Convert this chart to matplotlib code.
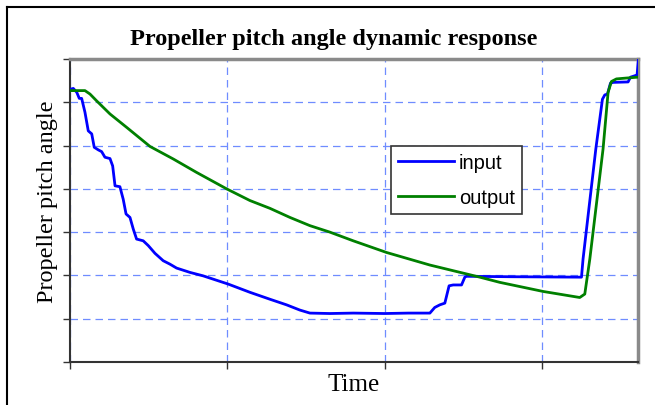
import matplotlib
matplotlib.use("Agg")
import matplotlib.pyplot as plt
from matplotlib.lines import Line2D

# Data (time units, pitch angle units)
input_t = [0.000, 0.021, 0.043, 0.059, 0.074, 0.095, 0.116, 0.138, 0.154, 0.180, 0.201, 0.222,
           0.254, 0.271, 0.286, 0.317, 0.338, 0.356, 0.381, 0.402, 0.423, 0.465, 0.497, 0.540,
           0.592, 0.635, 0.677, 0.762, 0.846, 1.005, 1.143, 1.270, 1.376, 1.460, 1.524, 1.651,
           1.800, 2.000, 2.150, 2.286, 2.317, 2.349, 2.381, 2.408, 2.434, 2.487, 2.508, 2.519,
           2.800, 3.249, 3.259, 3.340, 3.382, 3.397, 3.414, 3.433, 3.450, 3.545, 3.560, 3.602, 3.611]
input_y = [6.30, 6.32, 6.23, 6.09, 6.09, 5.77, 5.34, 5.27, 4.96, 4.90, 4.86, 4.73,
           4.70, 4.53, 4.07, 4.05, 3.76, 3.42, 3.34, 3.07, 2.84, 2.80, 2.69, 2.51,
           2.34, 2.26, 2.17, 2.07, 1.99, 1.80, 1.61, 1.45, 1.32, 1.20, 1.13, 1.12,
           1.13, 1.12, 1.13, 1.13, 1.26, 1.32, 1.36, 1.76, 1.78, 1.78, 1.96, 1.98,
           1.97, 1.96, 2.38, 4.92, 6.07, 6.17, 6.19, 6.44, 6.46, 6.47, 6.58, 6.63, 7.00]

output_t = [0.000, 0.095, 0.127, 0.170, 0.254, 0.360, 0.508, 0.656, 0.804, 0.995, 1.143,
            1.270, 1.397, 1.524, 1.651, 1.799, 2.011, 2.286, 2.603, 2.730, 3.005, 3.238,
            3.270, 3.302, 3.386, 3.418, 3.439, 3.471, 3.535, 3.606]
output_y = [6.27, 6.27, 6.19, 6.03, 5.73, 5.42, 4.98, 4.69, 4.38, 4.00, 3.73,
            3.55, 3.34, 3.15, 3.00, 2.80, 2.53, 2.24, 1.96, 1.84, 1.63, 1.49,
            1.57, 2.38, 4.92, 6.23, 6.48, 6.54, 6.56, 6.58]

x_ticks = [0, 1, 2, 3]
y_ticks = [0, 1, 2, 3, 4, 5, 6, 7]

W, H = 655, 406
fig = plt.figure(figsize=(W / 100, H / 100), dpi=100)
ax = fig.add_axes([70 / W, 1 - 363 / H, 568 / W, 303 / H])

ax.plot(input_t, input_y, color="#0000ff", lw=2.0, label="input", zorder=3)
ax.plot(output_t, output_y, color="#008000", lw=2.0, label="output", zorder=3)

ax.set_xlim(0, 3.608)
ax.set_ylim(0, 7)
ax.set_xticks(x_ticks)
ax.set_yticks(y_ticks)
ax.set_xticklabels([])
ax.set_yticklabels([])
ax.tick_params(direction="out", length=5, width=1, color="#333333")
ax.set_axisbelow(True)
ax.grid(True, color="#6f8cff", linestyle=(0, (6, 4)), linewidth=0.9)

for side in ("left", "bottom"):
    ax.spines[side].set_color("#333333")
    ax.spines[side].set_linewidth(1.5)
for side in ("top", "right"):
    ax.spines[side].set_color("#8a8a8a")
    ax.spines[side].set_linewidth(2.5)

leg = ax.legend(loc="upper left", bbox_to_anchor=((391 - 70) / 568, (363 - 146.7) / 303),
                borderaxespad=0, fancybox=False, framealpha=1, edgecolor="#333333",
                prop={"family": "Liberation Sans", "size": 14.5}, handlelength=2.75,
                handletextpad=0.25, labelspacing=0.8, borderpad=0.36)
leg.get_frame().set_linewidth(1.2)

fig.text(334 / W, 1 - 40 / H, "Propeller pitch angle dynamic response",
         ha="center", va="center", fontsize=17.5, fontweight="bold", family="Liberation Serif")
fig.text(48 / W, 1 - 202 / H, "Propeller pitch angle", rotation=90,
         ha="center", va="center", fontsize=17.5, family="Liberation Serif")
fig.text(354 / W, 1 - 385 / H, "Time", ha="center", va="center",
         fontsize=18, family="Liberation Serif")

# outer chart border (left and top visible)
fig.add_artist(Line2D([7 / W, 7 / W], [0, 1 - 8 / H], color="black", lw=1.5,
                      transform=fig.transFigure))
fig.add_artist(Line2D([7 / W, 1], [1 - 8 / H, 1 - 8 / H], color="black", lw=1.5,
                      transform=fig.transFigure))

fig.savefig("out.png", dpi=100)
